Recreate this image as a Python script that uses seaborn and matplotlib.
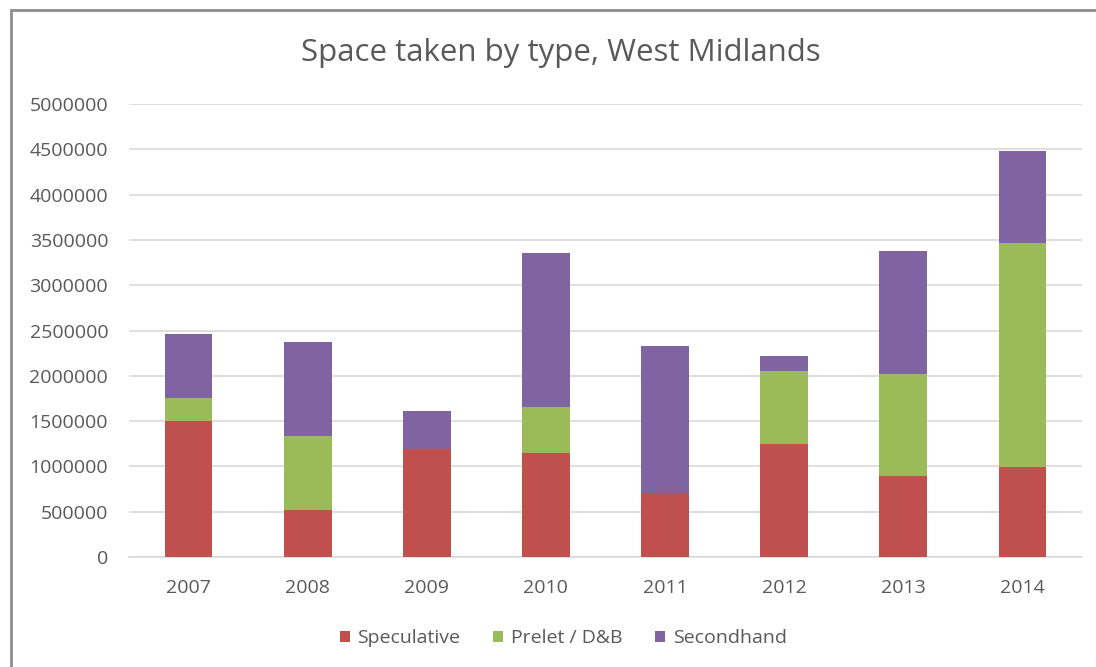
import matplotlib
matplotlib.use("Agg")
import matplotlib.pyplot as plt
import seaborn as sns
import numpy as np
import pandas as pd
from matplotlib.patches import Rectangle

years = ["2007", "2008", "2009", "2010", "2011", "2012", "2013", "2014"]
speculative = [1500000, 521000, 1196000, 1152000, 704000, 1248000, 899000, 989000]
prelet_db = [259000, 819000, 0, 500000, 0, 808000, 1116000, 2475000]
secondhand = [700000, 1030000, 419000, 1698000, 1622000, 163000, 1359000, 1014000]

series_names = ["Speculative", "Prelet / D&B", "Secondhand"]
colors = ["#C0504D", "#9BBB59", "#8064A2"]
yticks = [0, 500000, 1000000, 1500000, 2000000, 2500000, 3000000, 3500000, 4000000, 4500000, 5000000]

sns.set_theme(style="white")
plt.rcParams['font.family'] = ['Open Sans', 'DejaVu Sans']
text_color = "#595959"

fig = plt.figure(figsize=(10.96, 6.67), dpi=100)
ax = fig.add_axes([129/1096, 1 - 557/667, (1082-129)/1096, (557-104)/667])

df = pd.DataFrame({"year": years, "s": speculative, "p": prelet_db, "h": secondhand})
bottoms = np.zeros(len(years))
for col, name, c in zip(["s", "p", "h"], series_names, colors):
    sns.barplot(data=df, x="year", y=col, bottom=bottoms, color=c, width=0.4,
                ax=ax, label=name, saturation=1, linewidth=0, zorder=3)
    bottoms = bottoms + df[col].values

ax.set_xlim(-0.5, len(years) - 0.5)
ax.set_ylim(0, 5000000)
ax.set_yticks(yticks)
ax.set_yticklabels([str(v) for v in yticks])
ax.yaxis.grid(True, color="#D9D9D9", linewidth=1.2, zorder=0)
ax.set_axisbelow(True)
for s in ["top", "right", "left"]:
    ax.spines[s].set_visible(False)
ax.spines["bottom"].set_color("#D9D9D9")
ax.spines["bottom"].set_linewidth(1.2)
ax.set_xlabel("")
ax.set_ylabel("")
ax.tick_params(axis="both", colors=text_color, labelsize=14, length=0)
ax.tick_params(axis="y", pad=15)
ax.tick_params(axis="x", pad=16)

fig.text(0.512, 1 - 53/667, "Space taken by type, West Midlands", ha="center", va="center",
         fontsize=22.5, color=text_color)

handles, labels = ax.get_legend_handles_labels()
leg = fig.legend(handles, labels, loc="center", bbox_to_anchor=(0.514, 1 - 638/667), ncol=3,
                 frameon=False, fontsize=14, handlelength=0.5, handleheight=0.5,
                 handletextpad=0.4, columnspacing=1.7, labelcolor=text_color)
if ax.get_legend() is not None:
    ax.get_legend().remove()

fig.patches.append(Rectangle((10.5/1096, -0.1), 1.2, 1.1 - 9.5/667, transform=fig.transFigure,
                             fill=False, edgecolor="#8C8C8C", linewidth=2, zorder=10))

fig.savefig("out.png", dpi=100)
